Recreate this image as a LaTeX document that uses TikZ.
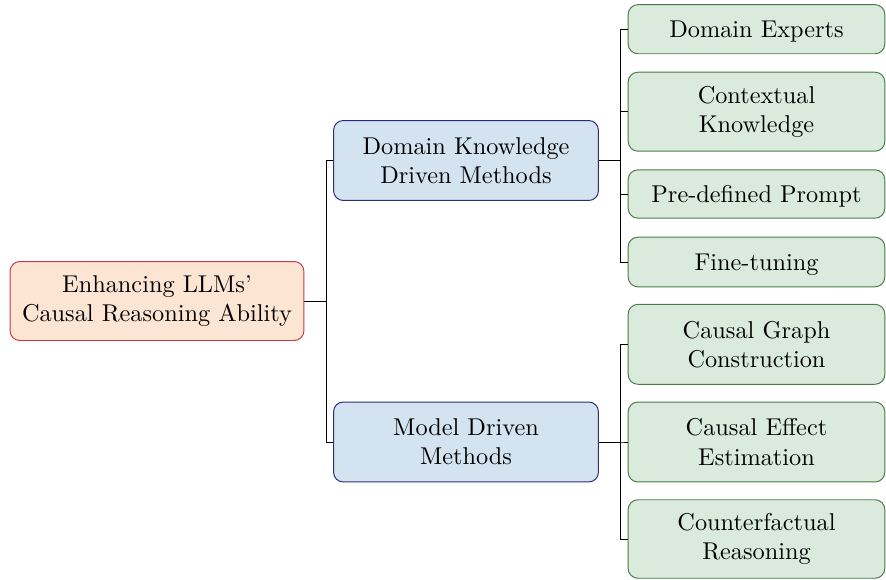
\documentclass[tikz,border=0pt]{standalone}
\usepackage{tikz}
\definecolor{rootfill}{HTML}{FDE5D3}
\definecolor{rootdraw}{HTML}{C23A45}
\definecolor{midfill}{HTML}{D3E3F0}
\definecolor{middraw}{HTML}{2A2C7E}
\definecolor{leaffill}{HTML}{DAEADD}
\definecolor{leafdraw}{HTML}{4B7A46}
\tikzset{
  basebox/.style={rectangle, rounded corners=4pt, line width=0.4pt, align=center, inner sep=2pt, font=\normalsize},
  rootbox/.style={basebox, fill=rootfill, draw=rootdraw, minimum width=120.9pt, minimum height=32.5pt},
  midbox/.style={basebox, fill=midfill, draw=middraw, minimum width=109.0pt, minimum height=32.9pt},
  leafbox/.style={basebox, fill=leaffill, draw=leafdraw, minimum width=105.6pt},
  oneline/.style={text depth=0pt},
  conn/.style={draw=black, line width=0.4pt}
}
\begin{document}
\begin{tikzpicture}[x=0.4115pt, y=-0.4115pt]
\useasboundingbox (0,0) rectangle (886,580);
\node[rootbox] (root) at (157,301) {Enhancing LLMs'\\Causal Reasoning Ability};
\node[midbox] (m1) at (466,160.5) {Domain Knowledge\\Driven Methods};
\node[midbox] (m2) at (466,442) {Model Driven\\Methods};
\node[leafbox, oneline, minimum height=20.2pt] (l1) at (756.5,29.2) {Domain Experts};
\node[leafbox, minimum height=32.5pt] (l2) at (756.5,111.7) {Contextual\\Knowledge};
\node[leafbox, oneline, minimum height=19.9pt] (l3) at (756.5,194) {Pre-defined Prompt};
\node[leafbox, oneline, minimum height=20.4pt] (l4) at (756.5,262) {Fine-tuning};
\node[leafbox, minimum height=32.9pt] (l5) at (756.5,344.3) {Causal Graph\\Construction};
\node[leafbox, minimum height=32.9pt] (l6) at (756.5,442) {Causal Effect\\Estimation};
\node[leafbox, minimum height=32.3pt] (l7) at (756.5,539) {Counterfactual\\Reasoning};
\foreach \c in {m1,m2} \draw[conn] (root.east) -- ++(22,0) |- (\c.west);
\foreach \c in {l1,l2,l3,l4} \draw[conn] (m1.east) -- ++(21.8,0) |- (\c.west);
\foreach \c in {l5,l6,l7} \draw[conn] (m2.east) -- ++(21.8,0) |- (\c.west);
\end{tikzpicture}
\end{document}
